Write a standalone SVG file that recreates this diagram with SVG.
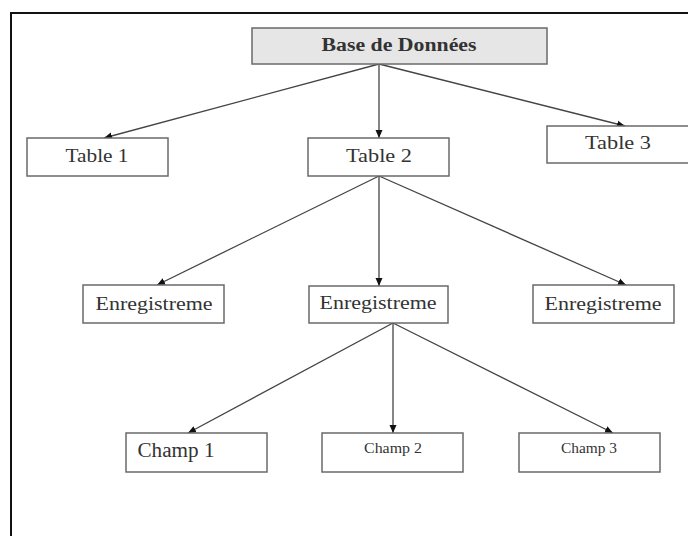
<svg xmlns="http://www.w3.org/2000/svg" width="688" height="536" viewBox="0 0 688 536">
<style>
.box{fill:#fff;stroke:#6a6a6a;stroke-width:1.5}
.top{fill:#e6e6e6;stroke:#6a6a6a;stroke-width:1.5}
.t{font-family:"Liberation Serif","Times New Roman",serif;fill:#333;text-anchor:middle}
.c{stroke:#444;stroke-width:1.3;fill:none;marker-end:url(#ah)}
</style>
<defs>
<marker id="ah" markerUnits="userSpaceOnUse" markerWidth="9" markerHeight="8" refX="8" refY="4" orient="auto">
<path d="M0,0.5 L8,4 L0,7.5 z" fill="#111"/>
</marker>
</defs>
<rect x="0" y="0" width="688" height="536" fill="#fff"/>
<rect x="11" y="13" width="720" height="600" fill="none" stroke="#111" stroke-width="2"/>
<g id="connectors">
<line class="c" x1="379" y1="64" x2="104" y2="138"/>
<line class="c" x1="379" y1="64" x2="379" y2="138"/>
<line class="c" x1="379" y1="64" x2="625" y2="126"/>
<line class="c" x1="379" y1="176" x2="157" y2="285"/>
<line class="c" x1="379" y1="176" x2="379" y2="286"/>
<line class="c" x1="379" y1="176" x2="626" y2="285"/>
<line class="c" x1="393" y1="323" x2="188" y2="433"/>
<line class="c" x1="393" y1="323" x2="393" y2="433"/>
<line class="c" x1="393" y1="323" x2="613" y2="433"/>
</g>
<g id="base">
<rect class="top" x="252" y="28" width="295" height="36"/>
<text class="t" x="399" y="51" font-size="18" font-weight="bold" fill="#111" textLength="155" lengthAdjust="spacingAndGlyphs">Base de Données</text>
</g>
<g id="table1">
<rect class="box" x="27" y="138" width="141" height="38"/>
<text class="t" x="97" y="162" font-size="19" textLength="63" lengthAdjust="spacingAndGlyphs">Table 1</text>
</g>
<g id="table2">
<rect class="box" x="308" y="138" width="141" height="38"/>
<text class="t" x="379" y="162" font-size="19" textLength="66" lengthAdjust="spacingAndGlyphs">Table 2</text>
</g>
<g id="table3">
<rect class="box" x="547" y="126" width="145" height="37"/>
<text class="t" x="618" y="149" font-size="19" textLength="66" lengthAdjust="spacingAndGlyphs">Table 3</text>
</g>
<g id="enr1">
<rect class="box" x="83" y="285" width="141" height="38"/>
<text class="t" x="154" y="310" font-size="19" textLength="117" lengthAdjust="spacingAndGlyphs">Enregistreme</text>
</g>
<g id="enr2">
<rect class="box" x="309" y="286" width="139" height="37"/>
<text class="t" x="378" y="309" font-size="19" textLength="117" lengthAdjust="spacingAndGlyphs">Enregistreme</text>
</g>
<g id="enr3">
<rect class="box" x="533" y="285" width="141" height="38"/>
<text class="t" x="603" y="310" font-size="19" textLength="117" lengthAdjust="spacingAndGlyphs">Enregistreme</text>
</g>
<g id="champ1">
<rect class="box" x="126" y="433" width="141" height="39"/>
<text class="t" x="176" y="457" font-size="20" textLength="77" lengthAdjust="spacingAndGlyphs">Champ 1</text>
</g>
<g id="champ2">
<rect class="box" x="322" y="433" width="141" height="39"/>
<text class="t" x="393" y="453" font-size="14" textLength="58" lengthAdjust="spacingAndGlyphs">Champ 2</text>
</g>
<g id="champ3">
<rect class="box" x="519" y="433" width="141" height="39"/>
<text class="t" x="589" y="453" font-size="14" textLength="56" lengthAdjust="spacingAndGlyphs">Champ 3</text>
</g>
</svg>
